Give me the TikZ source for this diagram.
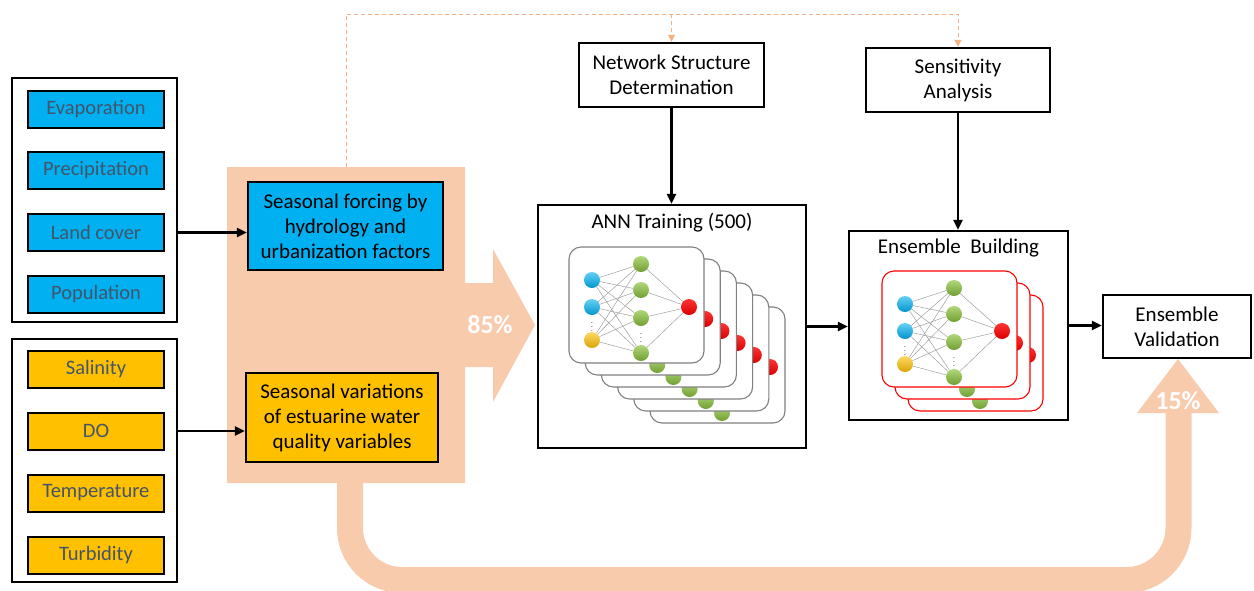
\documentclass[tikz,border=0pt]{standalone}
\usepackage{fontspec}
\setmainfont{Carlito}
\usetikzlibrary{arrows.meta,positioning}

\definecolor{skyblue}{HTML}{00B0F0}
\definecolor{amber}{HTML}{FFC000}
\definecolor{peach}{HTML}{F8CBAD}
\definecolor{slate}{HTML}{44546A}
\definecolor{dashorange}{HTML}{F4B183}
\definecolor{leaf}{HTML}{8DC63F}

\tikzset{
  box/.style={draw=black, line width=2.4pt, fill=white, align=center, inner sep=2pt,
    font=\fontsize{21}{25}\selectfont},
  var/.style={draw=black, line width=2pt, minimum width=136pt, minimum height=37pt,
    text=slate, font=\fontsize{20.5}{22}\selectfont},
  frame/.style={draw=black, line width=2.4pt, minimum width=165pt},
  flow/.style={line width=2.4pt, -{Triangle[length=10pt,width=9pt]}},
  feed/.style={dashorange, line width=1pt, dash pattern=on 4pt off 3pt,
    -{Triangle[length=7pt,width=7pt]}},
  neuron/.style={circle, minimum size=16pt, inner sep=0pt},
  synapse/.style={gray!80, line width=0.45pt},
  card/.style={rounded corners=12pt, line width=1.1pt, fill=white},
  share/.style={text=white, font=\bfseries\fontsize{26}{26}\selectfont},
}

% one small network on a rounded card: top-left x, top-left y, border colour
\newcommand{\netcard}[3]{%
  \begin{scope}[shift={(#1,#2)}]
    \draw[card, draw=#3] (0,0) rectangle (135,-116);
    \node[neuron, top color=skyblue!60, bottom color=skyblue!85!black] (in1) at (23,-33) {};
    \node[neuron, top color=skyblue!60, bottom color=skyblue!85!black] (in2) at (23,-60) {};
    \node[neuron, top color=amber!60, bottom color=amber!85!black] (in3) at (23,-93) {};
    \node[font=\fontsize{9}{9}\selectfont, text=gray!80!black] (gapIn) at (23,-77) {$\vdots$};
    \foreach \h/\y in {1/-17,2/-43,3/-71,4/-106}
      \node[neuron, top color=leaf!70, bottom color=leaf!80!black] (hd\h) at (72,\y) {};
    \node[font=\fontsize{9}{9}\selectfont, text=gray!80!black] (gapHd) at (72,-88) {$\vdots$};
    \node[neuron, top color=red!80, bottom color=red!85!black] (out) at (120,-60) {};
    \foreach \a in {in1,in2,in3}
      \foreach \b in {hd1,hd2,hd3,hd4}
        \draw[synapse] (\a) -- (\b);
    \foreach \b in {hd1,hd2,hd3,hd4}
      \draw[synapse] (\b) -- (out);
  \end{scope}}

\begin{document}
\begin{tikzpicture}[x=1pt,y=1pt]
  \useasboundingbox (0,0) rectangle (1254,-590);

  % peach backdrop with the 85% arrow
  \fill[peach] (227,-167) -- (465,-167) -- (465,-283) -- (493,-283) -- (493,-249)
    -- (535,-325) -- (493,-402) -- (493,-367) -- (465,-367) -- (465,-483)
    -- (227,-483) -- cycle;
  % 15% return band
  \draw[peach, line width=26pt, rounded corners=52pt]
    (350,-480) -- (350,-580) -- (1178.5,-580) -- (1178.5,-410);
  \fill[peach] (1137,-413) -- (1178,-359) -- (1219,-413) -- cycle;
  \node[share] (train85) at (490,-325) {85\%};
  \node[share] (valid15) at (1178,-401) {15\%};

  % input variables
  \node[frame, minimum height=244pt] (grpA) at (94.5,-200) {};
  \node[var, fill=skyblue] (evap) at (96,-109) {Evaporation};
  \node[var, fill=skyblue] (prec) at (96,-170.5) {Precipitation};
  \node[var, fill=skyblue] (land) at (96,-232.5) {Land cover};
  \node[var, fill=skyblue] (pop) at (96,-294.5) {Population};

  \node[frame, minimum height=243pt] (grpB) at (94.5,-460.5) {};
  \node[var, fill=amber] (sal) at (96,-369.5) {Salinity};
  \node[var, fill=amber] (do) at (96,-431) {DO};
  \node[var, fill=amber] (temp) at (96,-493) {Temperature};
  \node[var, fill=amber] (turb) at (96,-555) {Turbidity};

  \node[box, fill=skyblue, minimum width=195pt, minimum height=88pt] (forcing)
    at (345.5,-226) {Seasonal forcing by\\hydrology and\\urbanization factors};
  \node[box, fill=amber, minimum width=192pt, minimum height=89pt] (wq)
    at (342,-417.5) {Seasonal variations\\of estuarine water\\quality variables};

  % model building blocks
  \node[box, minimum width=185pt, minimum height=64pt] (nsd) at (671.5,-75)
    {Network Structure\\Determination};
  \node[box, minimum width=184pt, minimum height=64pt] (sa) at (958,-80)
    {Sensitivity\\Analysis};
  \node[box, minimum width=268pt, minimum height=243pt] (ann) at (672,-326.5) {};
  \node[box, draw=none, fill=none, below=6pt of ann.north] (annTitle) {ANN Training (500)};
  \node[box, minimum width=219pt, minimum height=189pt] (eb) at (958.5,-325.5) {};
  \node[box, draw=none, fill=none, below=6pt of eb.north] (ebTitle) {Ensemble~~Building};
  \node[box, minimum width=148pt, minimum height=63pt] (ev) at (1177,-326.5)
    {Ensemble\\Validation};

  \foreach \k in {5,4,...,0}
    \netcard{569+16.2*\k}{-247-12*\k}{gray};
  \foreach \k in {2,1,0}
    \netcard{882+13*\k}{-271-12*\k}{red};

  % connectors
  \draw[flow] (grpA.east |- land) -- (land -| forcing.west);
  \draw[flow] (grpB.east |- do) -- (do -| wq.west);
  \draw[flow] (nsd.south) -- (nsd.south |- ann.north);
  \draw[flow] (sa.south) -- (sa.south |- eb.north);
  \draw[flow] (ann.east) -- (ann.east -| eb.west);
  \draw[flow] (eb.east) -- (eb.east -| ev.west);

  \coordinate (tap) at (346,-167);
  \coordinate (ridge) at (346,-14);
  \draw[feed] (tap) -- (ridge) -| (sa.north);
  \draw[feed] (ridge -| nsd.north) -- (nsd.north);
\end{tikzpicture}
\end{document}
